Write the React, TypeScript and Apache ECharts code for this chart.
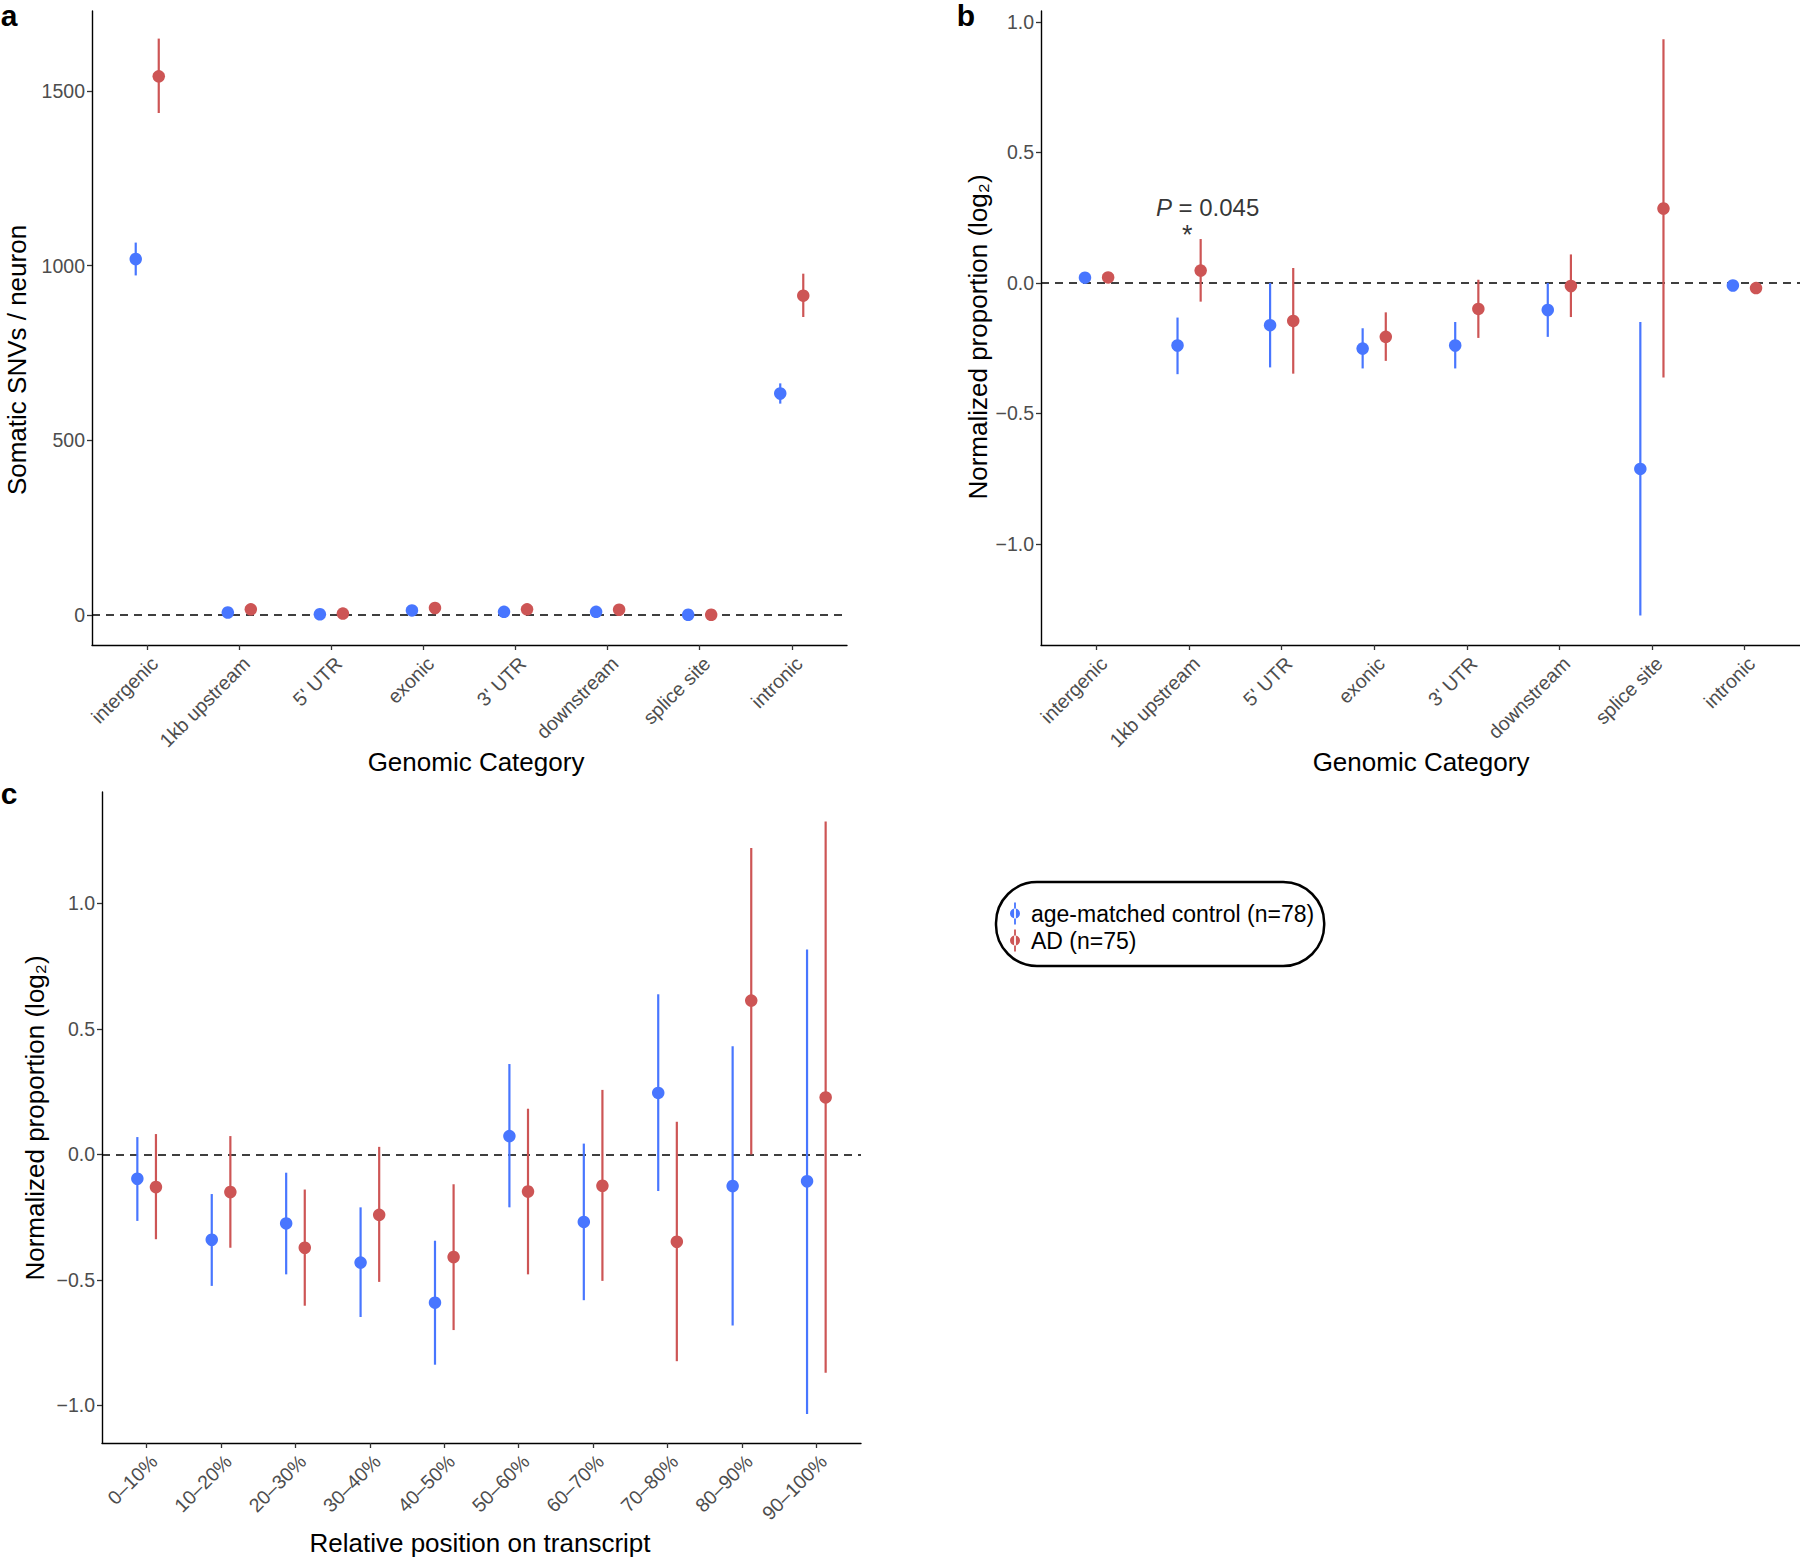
import React, { useEffect, useRef } from 'react';
import * as echarts from 'echarts';

// ---------- data ----------
const genomicCategories = ['intergenic', '1kb upstream', "5' UTR", 'exonic', "3' UTR", 'downstream', 'splice site', 'intronic'];

// panel a: somatic SNVs per neuron
const snvControl = [1019, 7, 2, 13, 9, 9, 0.5, 634];
const snvControlLow = [972, 4, 0, 10, 6, 6, -1, 605];
const snvControlHigh = [1066, 10, 4, 16, 12, 12, 2, 663];
const snvAD = [1542, 16, 4, 20, 16, 15, 0.5, 914];
const snvADLow = [1437, 12, 1, 16, 12, 11, -1, 853];
const snvADHigh = [1650, 20, 7, 24, 20, 19, 2, 977];

// panel b: normalized proportion (log2) by genomic category
const catControl = [0.02, -0.24, -0.162, -0.252, -0.24, -0.104, -0.713, -0.01];
const catControlLow = [0.01, -0.35, -0.324, -0.328, -0.328, -0.207, -1.275, -0.02];
const catControlHigh = [0.03, -0.133, 0.0, -0.174, -0.15, 0.0, -0.15, 0.0];
const catAD = [0.021, 0.047, -0.146, -0.207, -0.1, -0.012, 0.285, -0.02];
const catADLow = [0.011, -0.072, -0.348, -0.299, -0.211, -0.131, -0.363, -0.03];
const catADHigh = [0.031, 0.168, 0.057, -0.113, 0.012, 0.109, 0.934, -0.01];

// panel c: normalized proportion (log2) by relative position on transcript
const positionCategories = ['0–10%', '10–20%', '20–30%', '30–40%', '40–50%', '50–60%', '60–70%', '70–80%', '80–90%', '90–100%'];
const posControl = [-0.097, -0.34, -0.275, -0.431, -0.591, 0.073, -0.269, 0.245, -0.126, -0.107];
const posControlLow = [-0.265, -0.524, -0.478, -0.648, -0.838, -0.211, -0.581, -0.146, -0.682, -1.034];
const posControlHigh = [0.069, -0.158, -0.073, -0.211, -0.344, 0.36, 0.043, 0.638, 0.431, 0.816];
const posAD = [-0.13, -0.15, -0.372, -0.241, -0.409, -0.148, -0.125, -0.348, 0.613, 0.227];
const posADLow = [-0.338, -0.372, -0.603, -0.508, -0.7, -0.478, -0.504, -0.824, 0.0, -0.87];
const posADHigh = [0.081, 0.073, -0.14, 0.03, -0.119, 0.182, 0.257, 0.13, 1.221, 1.326];

const yTicksA = [0, 500, 1000, 1500];
const yTicksB = [-1.0, -0.5, 0.0, 0.5, 1.0];
const yTicksC = [-1.0, -0.5, 0.0, 0.5, 1.0];

const pValueText = ' = 0.045';
const controlName = 'age-matched control (n=78)';
const adName = 'AD (n=75)';

// ---------- style ----------
const BLUE = '#4876FF';
const RED = '#CD5555';
const DODGE = 0.125;
const FONT = '"Liberation Sans", Arial, Helvetica, sans-serif';
const TICK_COLOR = '#4D4D4D';

function fmtNum(v: number) {
  const s = Math.abs(v).toFixed(1);
  return v < -1e-9 ? '\u2212' + s : s;
}

function xAxisFor(gridIndex: number, cats: string[]) {
  const idx = cats.map((_, i) => i);
  return {
    type: 'value',
    gridIndex,
    min: -0.6,
    max: cats.length - 1 + 0.6,
    splitLine: { show: false },
    axisLine: { show: true, onZero: false, lineStyle: { color: '#000', width: 1.4 } },
    axisTick: { show: true, customValues: idx, length: 5, lineStyle: { color: '#333', width: 1.3 } },
    axisLabel: {
      show: true,
      customValues: idx,
      rotate: 45,
      margin: 8,
      verticalAlign: 'top',
      fontSize: 19.5,
      fontFamily: FONT,
      color: TICK_COLOR,
      formatter: (v: number) => cats[Math.round(v)] ?? '',
    },
  };
}

function yAxisFor(gridIndex: number, min: number, max: number, ticks: number[], fmt: (v: number) => string) {
  return {
    type: 'value',
    gridIndex,
    min,
    max,
    splitLine: { show: false },
    axisLine: { show: true, onZero: false, lineStyle: { color: '#000', width: 1.4 } },
    axisTick: { show: true, customValues: ticks, length: 5, lineStyle: { color: '#333', width: 1.3 } },
    axisLabel: {
      show: true,
      customValues: ticks,
      margin: 7,
      fontSize: 19.5,
      fontFamily: FONT,
      color: TICK_COLOR,
      formatter: fmt,
    },
  };
}

function errorSeries(id: string, axisIndex: number, mid: number[], low: number[], high: number[], offset: number, color: string) {
  return {
    type: 'custom',
    id,
    xAxisIndex: axisIndex,
    yAxisIndex: axisIndex,
    silent: true,
    z: 2,
    encode: { x: 0, y: [1, 2] },
    data: mid.map((_, i) => [i + offset, low[i], high[i]]),
    renderItem: (_params: any, api: any) => {
      const x = api.value(0);
      const p1 = api.coord([x, api.value(1)]);
      const p2 = api.coord([x, api.value(2)]);
      return {
        type: 'line',
        shape: { x1: p1[0], y1: p1[1], x2: p2[0], y2: p2[1] },
        style: { stroke: color, lineWidth: 2.2 },
      };
    },
  };
}

function pointSeries(name: string, axisIndex: number, mid: number[], offset: number, color: string, withZeroLine: boolean) {
  const s: any = {
    type: 'scatter',
    name,
    xAxisIndex: axisIndex,
    yAxisIndex: axisIndex,
    symbol: 'circle',
    symbolSize: 12.5,
    z: 3,
    itemStyle: { color, opacity: 1 },
    data: mid.map((v, i) => [i + offset, v]),
  };
  if (withZeroLine) {
    s.markLine = {
      silent: true,
      symbol: 'none',
      label: { show: false },
      lineStyle: { type: [8, 6], color: '#000', width: 1.5 },
      data: [{ yAxis: 0 }],
      z: 1,
    };
  }
  return s;
}

const LEGEND_ICON = 'path://M4.1,0 L5.9,0 L5.9,22 L4.1,22 Z M0,11 A5,5 0 1 0 10,11 A5,5 0 1 0 0,11 Z';

export default function App() {
  const ref = useRef<HTMLDivElement>(null);

  useEffect(() => {
    if (!ref.current) return;
    const chart = echarts.init(ref.current, null, { renderer: 'svg' });

    const titleStyle = { fontSize: 26, fontFamily: FONT, fill: '#000', align: 'center', verticalAlign: 'middle' };

    const option: any = {
      animation: false,
      backgroundColor: '#fff',
      textStyle: { fontFamily: FONT },
      grid: [
        { left: 92, top: 11, width: 755, height: 634 },
        { left: 1041, top: 11, width: 759, height: 634 },
        { left: 102, top: 792, width: 759, height: 651 },
      ],
      xAxis: [
        xAxisFor(0, genomicCategories),
        xAxisFor(1, genomicCategories),
        xAxisFor(2, positionCategories),
      ],
      yAxis: [
        yAxisFor(0, -86, 1729, yTicksA, (v: number) => String(v)),
        yAxisFor(1, -1.388, 1.042, yTicksB, fmtNum),
        yAxisFor(2, -1.15, 1.444, yTicksC, fmtNum),
      ],
      legend: {
        show: true,
        data: [controlName, adName],
        orient: 'vertical',
        left: 996,
        top: 882,
        icon: LEGEND_ICON,
        itemWidth: 10,
        itemHeight: 22,
        itemGap: 4,
        padding: [20, 10, 14, 14],
        borderColor: '#000',
        borderWidth: 2.5,
        borderRadius: 41,
        backgroundColor: '#fff',
        selectedMode: false,
        textStyle: { fontSize: 23, fontFamily: FONT, color: '#000', padding: [0, 0, 0, 6] },
      },
      series: [
        // panel a
        errorSeries('ea-c', 0, snvControl, snvControlLow, snvControlHigh, -DODGE, BLUE),
        errorSeries('ea-a', 0, snvAD, snvADLow, snvADHigh, DODGE, RED),
        pointSeries(controlName, 0, snvControl, -DODGE, BLUE, true),
        pointSeries(adName, 0, snvAD, DODGE, RED, false),
        // panel b
        errorSeries('eb-c', 1, catControl, catControlLow, catControlHigh, -DODGE, BLUE),
        errorSeries('eb-a', 1, catAD, catADLow, catADHigh, DODGE, RED),
        pointSeries(controlName, 1, catControl, -DODGE, BLUE, true),
        pointSeries(adName, 1, catAD, DODGE, RED, false),
        // panel b annotation
        {
          type: 'scatter',
          id: 'annot',
          xAxisIndex: 1,
          yAxisIndex: 1,
          silent: true,
          symbolSize: 0,
          z: 5,
          data: [
            { value: [1.2, 0.29], label: { formatter: '{i|P}{n|' + pValueText + '}' } },
            { value: [0.98, 0.185], label: { formatter: '{s|*}' } },
          ],
          label: {
            show: true,
            position: 'inside',
            color: '#000',
            rich: {
              i: { fontSize: 24, fontStyle: 'italic', fontFamily: FONT, color: '#000' },
              n: { fontSize: 24, fontFamily: FONT, color: '#000' },
              s: { fontSize: 27, fontFamily: FONT, color: '#000' },
            },
          },
        },
        // panel c
        errorSeries('ec-c', 2, posControl, posControlLow, posControlHigh, -DODGE, BLUE),
        errorSeries('ec-a', 2, posAD, posADLow, posADHigh, DODGE, RED),
        pointSeries(controlName, 2, posControl, -DODGE, BLUE, true),
        pointSeries(adName, 2, posAD, DODGE, RED, false),
      ],
      graphic: [
        { type: 'text', x: 9, y: 15, style: { text: 'a', fontSize: 30, fontWeight: 'bold', fontFamily: FONT, fill: '#000', align: 'center', verticalAlign: 'middle' } },
        { type: 'text', x: 966, y: 15, style: { text: 'b', fontSize: 30, fontWeight: 'bold', fontFamily: FONT, fill: '#000', align: 'center', verticalAlign: 'middle' } },
        { type: 'text', x: 9, y: 793, style: { text: 'c', fontSize: 30, fontWeight: 'bold', fontFamily: FONT, fill: '#000', align: 'center', verticalAlign: 'middle' } },
        { type: 'text', x: 17, y: 360, rotation: Math.PI / 2, style: { ...titleStyle, text: 'Somatic SNVs / neuron' } },
        { type: 'text', x: 978, y: 337, rotation: Math.PI / 2, style: { ...titleStyle, text: 'Normalized proportion (log\u2082)' } },
        { type: 'text', x: 35, y: 1118, rotation: Math.PI / 2, style: { ...titleStyle, text: 'Normalized proportion (log\u2082)' } },
        { type: 'text', x: 476, y: 762, style: { ...titleStyle, text: 'Genomic Category' } },
        { type: 'text', x: 1421, y: 762, style: { ...titleStyle, text: 'Genomic Category' } },
        { type: 'text', x: 480, y: 1543, style: { ...titleStyle, text: 'Relative position on transcript' } },
      ],
    };

    chart.setOption(option);
    return () => chart.dispose();
  }, []);

  return (
    <div
      ref={ref}
      style={{ position: 'absolute', left: 0, top: 0, width: 1800, height: 1558, background: '#fff' }}
    />
  );
}
